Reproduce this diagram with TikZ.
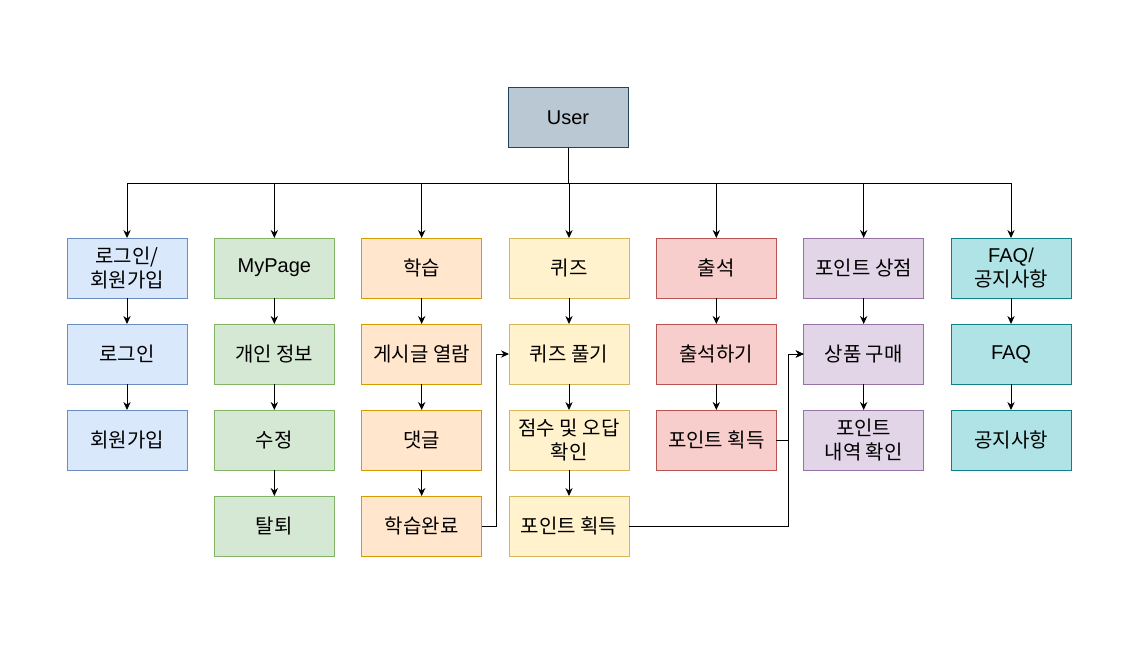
\documentclass[tikz,border=0pt]{standalone}
\usepackage{fontspec}
\setmainfont{Noto Sans CJK KR}
\newfontfamily\latinfont{Liberation Sans}
\usetikzlibrary{positioning,calc,arrows.meta}

\definecolor{userfill}{HTML}{BAC8D3}\definecolor{userline}{HTML}{23445D}
\definecolor{bluefill}{HTML}{DAE8FC}\definecolor{blueline}{HTML}{6C8EBF}
\definecolor{greenfill}{HTML}{D5E8D4}\definecolor{greenline}{HTML}{82B366}
\definecolor{orangefill}{HTML}{FFE6CC}\definecolor{orangeline}{HTML}{D79B00}
\definecolor{yellowfill}{HTML}{FFF2CC}\definecolor{yellowline}{HTML}{D6B656}
\definecolor{redfill}{HTML}{F8CECC}\definecolor{redline}{HTML}{B85450}
\definecolor{purplefill}{HTML}{E1D5E7}\definecolor{purpleline}{HTML}{9673A6}
\definecolor{tealfill}{HTML}{B0E3E6}\definecolor{tealline}{HTML}{0E8088}

\begin{document}
\begin{tikzpicture}[x=0.75pt, y=-0.75pt, ->, >={Stealth[length=6pt,width=5.5pt]}, line width=0.75pt,
	node distance=19.5pt and 20.5pt,
	box/.style={rectangle, draw, minimum width=90pt, minimum height=45pt, inner sep=1pt, outer sep=0pt,
		align=center, font=\fontsize{15}{17.5}\selectfont},
	userbox/.style={box, fill=userfill, draw=userline},
	bluebox/.style={box, fill=bluefill, draw=blueline},
	greenbox/.style={box, fill=greenfill, draw=greenline},
	orangebox/.style={box, fill=orangefill, draw=orangeline},
	yellowbox/.style={box, fill=yellowfill, draw=yellowline},
	redbox/.style={box, fill=redfill, draw=redline},
	purplebox/.style={box, fill=purplefill, draw=purpleline},
	tealbox/.style={box, fill=tealfill, draw=tealline}]
	\useasboundingbox (0,0) rectangle (1137,663);

	\node[userbox] (user) at (568,118) {\latinfont User};
	\node[yellowbox] (quiz) at (569,268) {퀴즈};
	\node[orangebox] (study) [left=of quiz] {학습};
	\node[greenbox] (mypage) [left=of study] {\latinfont MyPage};
	\node[bluebox] (account) [left=of mypage] {로그인/\\회원가입};
	\node[redbox] (attend) [right=of quiz] {출석};
	\node[purplebox] (shop) [right=of attend] {포인트 상점};
	\node[tealbox] (board) [right=of shop] {{\latinfont FAQ/}\\공지사항};

	% second level
	\node[bluebox] (login) [below=of account] {로그인};
	\node[bluebox] (signup) [below=of login] {회원가입};
	\node[greenbox] (info) [below=of mypage] {개인 정보};
	\node[greenbox] (edit) [below=of info] {수정};
	\node[greenbox] (leave) [below=of edit] {탈퇴};
	\node[orangebox] (read) [below=of study] {게시글 열람};
	\node[orangebox] (comment) [below=of read] {댓글};
	\node[orangebox] (done) [below=of comment] {학습완료};
	\node[yellowbox] (solve) [below=of quiz] {퀴즈 풀기};
	\node[yellowbox] (score) [below=of solve] {점수 및 오답\\확인};
	\node[yellowbox] (qpoint) [below=of score] {포인트 획득};
	\node[redbox] (check) [below=of attend] {출석하기};
	\node[redbox] (apoint) [below=of check] {포인트 획득};
	\node[purplebox] (buy) [below=of shop] {상품 구매};
	\node[purplebox] (history) [below=of buy] {포인트\\내역 확인};
	\node[tealbox] (faq) [below=of board] {\latinfont FAQ};
	\node[tealbox] (notice) [below=of faq] {공지사항};

	\coordinate (bus) at ($(user.south)+(0,35)$);
	\foreach \t in {account,mypage,study,quiz,attend,shop,board}
		\draw (user.south) -- (bus) -| (\t);

	\path (account) edge (login) (login) edge (signup)
		(mypage) edge (info) (info) edge (edit) (edit) edge (leave)
		(study) edge (read) (read) edge (comment) (comment) edge (done)
		(quiz) edge (solve) (solve) edge (score) (score) edge (qpoint)
		(attend) edge (check) (check) edge (apoint)
		(shop) edge (buy) (buy) edge (history)
		(board) edge (faq) (faq) edge (notice);

	\coordinate (turn) at ($(done.east)+(15,0)$);
	\draw (done.east) -- (turn) |- (solve.west);
	\coordinate (join) at ($(buy.west)+(-15,0)$);
	\draw (qpoint.east) -| (join) -- (buy.west);
	\draw (apoint.east) -| (join) -- (buy.west);
\end{tikzpicture}
\end{document}
